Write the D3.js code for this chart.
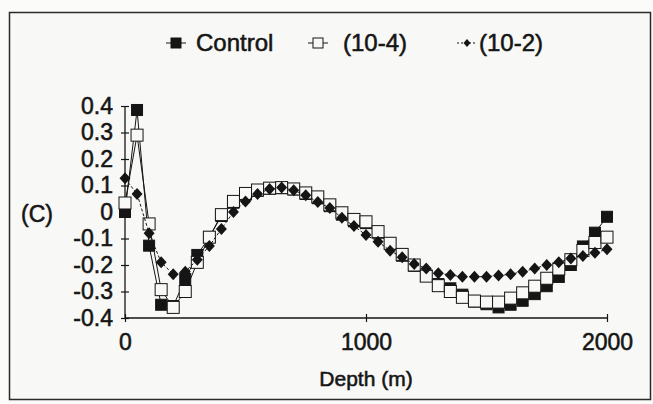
<!DOCTYPE html>
<html>
<head>
<meta charset="utf-8">
<script src="https://cdn.jsdelivr.net/npm/d3@7"></script>
<style>
  html, body { margin: 0; padding: 0; background: #fbfbfa; }
  svg { display: block; font-family: "Liberation Sans", Arial, Helvetica, sans-serif; }
  .lbl { fill: #151515; stroke: #151515; stroke-width: 0.55px; }
</style>
</head>
<body>
<div id="chart"></div>
<script>
// ── data (depth in m, step 50) ──────────────────────────
const depth = [0, 50, 100, 150, 200, 250, 300, 350, 400, 450, 500, 550, 600, 650, 700,
  750, 800, 850, 900, 950, 1000, 1050, 1100, 1150, 1200, 1250, 1300, 1350, 1400, 1450,
  1500, 1550, 1600, 1650, 1700, 1750, 1800, 1850, 1900, 1950, 2000];

const control = [0.0, 0.385, -0.127, -0.35, -0.355, -0.253, -0.162, -0.095, -0.015, 0.035,
  0.065, 0.08, 0.088, 0.09, 0.085, 0.068, 0.052, 0.022, -0.01, -0.035,
  -0.042, -0.078, -0.12, -0.165, -0.203, -0.24, -0.272, -0.288, -0.312, -0.338,
  -0.348, -0.36, -0.35, -0.335, -0.31, -0.28, -0.245, -0.2, -0.13, -0.078, -0.018];

const conc4 = [0.034, 0.29, -0.045, -0.293, -0.36, -0.3, -0.19, -0.095, -0.01, 0.04,
  0.07, 0.083, 0.09, 0.092, 0.087, 0.072, 0.057, 0.027, -0.003, -0.028,
  -0.037, -0.074, -0.118, -0.16, -0.2, -0.242, -0.278, -0.3, -0.322, -0.336,
  -0.34, -0.34, -0.325, -0.305, -0.28, -0.25, -0.215, -0.18, -0.145, -0.115, -0.095];

const conc2 = [0.127, 0.068, -0.08, -0.19, -0.235, -0.225, -0.18, -0.128, -0.064, 0.0,
  0.04, 0.068, 0.087, 0.092, 0.082, 0.063, 0.038, 0.015, -0.022, -0.053,
  -0.087, -0.112, -0.146, -0.171, -0.196, -0.213, -0.231, -0.238, -0.244, -0.244,
  -0.244, -0.24, -0.235, -0.225, -0.213, -0.2, -0.19, -0.175, -0.166, -0.154, -0.141];

const seriesNames = ["Control", "(10-4)", "(10-2)"];
const yTicks = [-0.4, -0.3, -0.2, -0.1, 0, 0.1, 0.2, 0.3, 0.4];
const yTickLabels = ["-0.4", "-0.3", "-0.2", "-0.1", "0", "0.1", "0.2", "0.3", "0.4"];
const xTicks = [0, 1000, 2000];
const xTickLabels = ["0", "1000", "2000"];

// ── layout ──────────────────────────────────────────────
const W = 653, H = 404;
const ink = "#151515";
const paper = "#f8f8f6";

const svg = d3.select("#chart").append("svg")
  .attr("width", W).attr("height", H);

// outer frame
svg.append("rect")
  .attr("x", 9.5).attr("y", 12.5).attr("width", 641).attr("height", 387)
  .attr("fill", paper).attr("stroke", "#2a2a2a").attr("stroke-width", 1.5);

const x = d3.scaleLinear().domain([0, 2000]).range([125, 607]);
const y = d3.scaleLinear().domain([-0.4, 0.4]).range([318, 106]);

// ── axes ────────────────────────────────────────────────
const yAxis = svg.append("g")
  .attr("transform", `translate(${x(0)},0)`)
  .call(d3.axisLeft(y).tickValues(yTicks)
    .tickFormat((d, i) => yTickLabels[i]).tickSize(4).tickPadding(8));

const xAxis = svg.append("g")
  .attr("transform", `translate(0,${y(-0.4)})`)
  .call(d3.axisBottom(x).tickValues(xTicks)
    .tickFormat((d, i) => xTickLabels[i]).tickSize(4).tickPadding(12));

[yAxis, xAxis].forEach(g => {
  g.select(".domain").attr("stroke", ink).attr("stroke-width", 1.3);
  g.selectAll(".tick line").attr("stroke", ink).attr("stroke-width", 1.2);
  g.selectAll(".tick text").attr("class", "lbl").attr("font-size", 23);
});
// ticks cross the axis line
yAxis.selectAll(".tick line").attr("x1", 4).attr("x2", -4);
xAxis.selectAll(".tick line").attr("y1", -4).attr("y2", 4);
yAxis.select(".domain").attr("d", `M0,${y(0.4)}V${y(-0.4)}`);
xAxis.select(".domain").attr("d", `M${x(0)},0H${x(2000)}`);

svg.append("text").attr("class", "lbl")
  .attr("x", 366).attr("y", 386)
  .attr("text-anchor", "middle").attr("font-size", 21)
  .text("Depth (m)");

svg.append("text").attr("class", "lbl")
  .attr("x", 21).attr("y", 222)
  .attr("font-size", 23)
  .text("(C)");

// ── series ──────────────────────────────────────────────
const line = d3.line().x(d => x(d[0])).y(d => y(d[1]));
const zipped = vals => depth.map((d, i) => [d, vals[i]]);

const diamondPath = (w, h) => `M0,${-h}L${w},0L0,${h}L${-w},0Z`;

function drawSeries(vals, cfg) {
  const pts = zipped(vals);
  svg.append("path").datum(pts)
    .attr("d", line).attr("fill", "none")
    .attr("stroke", ink).attr("stroke-width", 1)
    .attr("stroke-dasharray", cfg.dash || null);
  const g = svg.append("g");
  if (cfg.shape === "diamond") {
    g.selectAll("path").data(pts).join("path")
      .attr("transform", d => `translate(${x(d[0])},${y(d[1])})`)
      .attr("d", diamondPath(5.5, 6)).attr("fill", ink);
  } else {
    g.selectAll("rect").data(pts).join("rect")
      .attr("x", d => x(d[0]) - cfg.size / 2).attr("y", d => y(d[1]) - cfg.size / 2)
      .attr("width", cfg.size).attr("height", cfg.size)
      .attr("fill", cfg.fill).attr("stroke", ink).attr("stroke-width", 1);
  }
}

drawSeries(control, { shape: "square", size: 11, fill: ink });
drawSeries(conc4, { shape: "square", size: 12, fill: paper });
drawSeries(conc2, { shape: "diamond", dash: "3,2" });

// ── legend ──────────────────────────────────────────────
const legend = svg.append("g").attr("transform", "translate(0,51)");
const legendItems = [
  { name: seriesNames[0], mx: 176, tx: 196, shape: "square", fill: ink, dash: null },
  { name: seriesNames[1], mx: 318, tx: 343, shape: "square", fill: paper, dash: null },
  { name: seriesNames[2], mx: 467, tx: 479, shape: "diamond", dash: "2,2" }
];
legendItems.forEach(it => {
  legend.append("line")
    .attr("x1", it.mx - 10).attr("x2", it.mx + 10).attr("y1", -8).attr("y2", -8)
    .attr("stroke", ink).attr("stroke-width", 1)
    .attr("stroke-dasharray", it.dash);
  if (it.shape === "diamond") {
    legend.append("path")
      .attr("transform", `translate(${it.mx},-8)`)
      .attr("d", diamondPath(3.5, 4)).attr("fill", ink);
  } else {
    legend.append("rect")
      .attr("x", it.mx - 5).attr("y", -13).attr("width", 10).attr("height", 10)
      .attr("fill", it.fill).attr("stroke", ink).attr("stroke-width", 1);
  }
  legend.append("text").attr("class", "lbl")
    .attr("x", it.tx).attr("y", 0)
    .attr("font-size", 24)
    .text(it.name);
});
</script>
</body>
</html>
